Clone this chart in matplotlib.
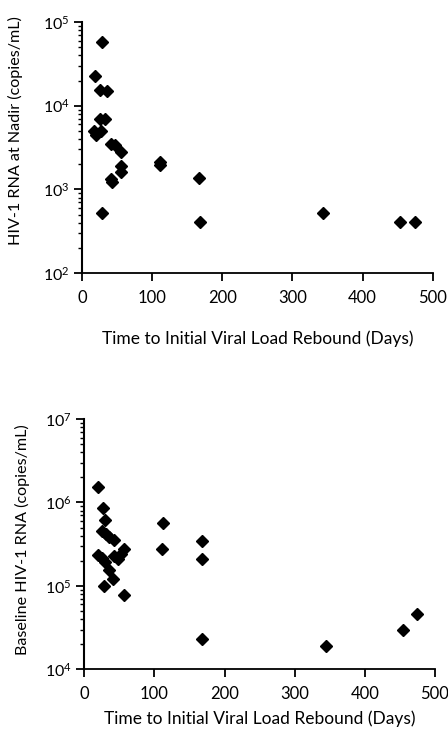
import matplotlib
matplotlib.use("Agg")
import matplotlib.pyplot as plt
from matplotlib.ticker import LogLocator, FixedLocator, NullFormatter

plt.rcParams['font.family'] = ['Lato', 'DejaVu Sans']
plt.rcParams['mathtext.fontset'] = 'custom'
plt.rcParams['mathtext.rm'] = 'Lato'
plt.rcParams['mathtext.it'] = 'Lato'

# Top panel: HIV-1 RNA at nadir vs time to rebound
days_nadir = [28, 18, 26, 35, 26, 33, 17, 20, 27, 42, 47, 55, 56, 56, 42, 43,
              111, 111, 167, 168, 28, 343, 454, 475]
rna_nadir = [58000, 22400, 15400, 15000, 7000, 7000, 5000, 4500, 5000, 3500, 3400,
             2800, 1900, 1600, 1330, 1230, 2100, 1950, 1360, 411, 517, 517, 411, 411]

# Bottom panel: baseline HIV-1 RNA vs time to rebound
days_base = [19, 27, 30, 25, 31, 36, 42, 19, 25, 30, 35, 42, 48, 52, 56,
             41, 28, 57, 112, 111, 168, 168, 168, 345, 455, 475]
rna_base = [1.53e6, 8.5e5, 6.2e5, 4.6e5, 4.2e5, 3.9e5, 3.6e5, 2.35e5, 2.15e5, 1.95e5,
            1.55e5, 2.3e5, 2.1e5, 2.4e5, 2.8e5, 1.2e5, 1.0e5, 7.8e4, 5.7e5, 2.8e5,
            3.46e5, 2.1e5, 2.3e4, 1.9e4, 2.96e4, 4.57e4]

x_ticks = [0, 100, 200, 300, 400, 500]
xlabel = "Time to Initial Viral Load Rebound (Days)"

fig = plt.figure(figsize=(4.48, 7.36), dpi=100)
ax1 = fig.add_axes([0.183, 0.629, 0.783, 0.341])
ax2 = fig.add_axes([0.188, 0.0906, 0.783, 0.340])

def style(ax, ylim, ylabel, labelpad_x, ylab_xy):
    ax.set_yscale('log')
    ax.set_xlim(0, 500)
    ax.set_ylim(*ylim)
    for s in ['top', 'right']:
        ax.spines[s].set_visible(False)
    ax.spines['left'].set_linewidth(1.5)
    ax.spines['bottom'].set_linewidth(1.3)
    ax.xaxis.set_major_locator(FixedLocator(x_ticks))
    ax.set_xticklabels([str(t) for t in x_ticks])
    ax.yaxis.set_major_locator(LogLocator(base=10, numticks=10))
    ax.yaxis.set_minor_locator(LogLocator(base=10, subs=range(2, 10), numticks=20))
    ax.yaxis.set_minor_formatter(NullFormatter())
    ax.tick_params(axis='both', which='major', direction='out', length=6, width=1.3,
                   colors='black')
    ax.tick_params(axis='x', which='major', labelsize=12, pad=6)
    ax.tick_params(axis='y', which='major', labelsize=11.5, pad=3)
    ax.tick_params(axis='y', which='minor', direction='out', length=3, width=1.0)
    ax.set_xlabel(xlabel, fontsize=12.5, labelpad=labelpad_x)
    ax.set_ylabel(ylabel, fontsize=11.6, va='center')
    ax.yaxis.set_label_coords(*ylab_xy)

ax1.plot(days_nadir, rna_nadir, 'D', color='black', ms=6, mec='black')
style(ax1, (1e2, 1e5), "HIV-1 RNA at Nadir (copies/mL)", 18, (-0.19, 0.566))

ax2.plot(days_base, rna_base, 'D', color='black', ms=6, mec='black')
style(ax2, (1e4, 1e7), "Baseline HIV-1 RNA (copies/mL)", 6, (-0.177, 0.517))

fig.savefig("out.png", dpi=100)
